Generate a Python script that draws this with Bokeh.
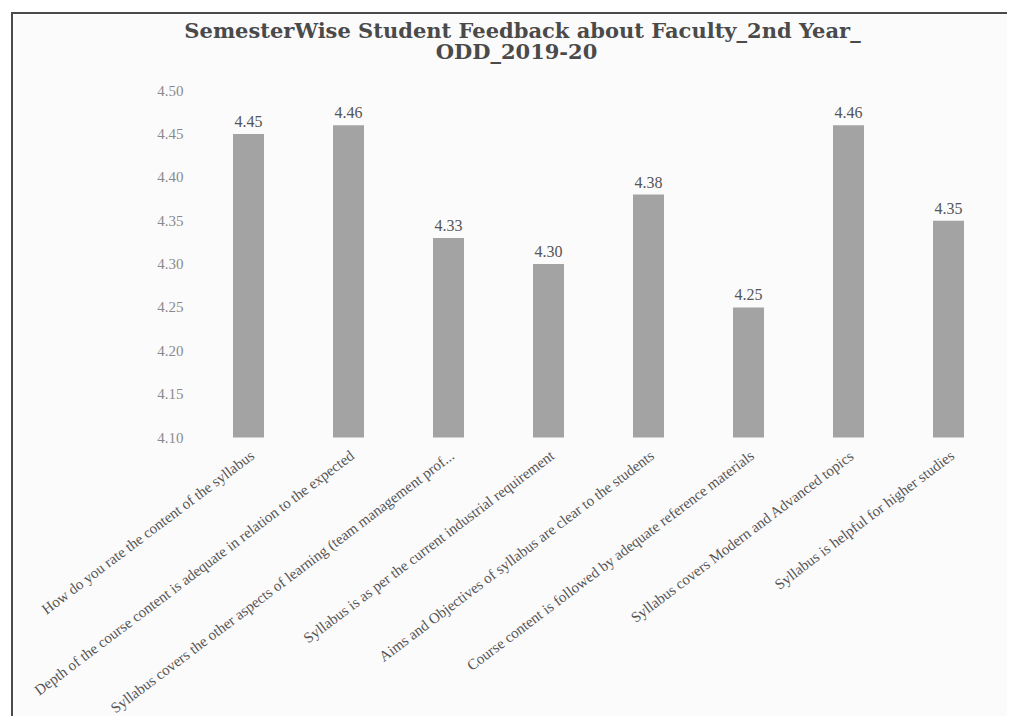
from bokeh.plotting import figure
from bokeh.models import ColumnDataSource, Range1d, LabelSet, Label
from bokeh.embed import file_html
from bokeh.resources import INLINE

# ---- data ----
categories = [
    "How do you rate the content of the syllabus",
    "Depth of the course content is adequate in relation to the expected",
    "Syllabus covers the other aspects of learning (team management prof...",
    "Syllabus is as per the current industrial requirement",
    "Aims and Objectives of syllabus are clear to the students",
    "Course content is followed by adequate reference materials",
    "Syllabus covers Modern and Advanced topics",
    "Syllabus is helpful for higher studies",
]
values = [4.45, 4.46, 4.33, 4.30, 4.38, 4.25, 4.46, 4.35]
value_labels = ["4.45", "4.46", "4.33", "4.30", "4.38", "4.25", "4.46", "4.35"]
y_ticks = [4.10, 4.15, 4.20, 4.25, 4.30, 4.35, 4.40, 4.45, 4.50]
y_tick_labels = ["4.10", "4.15", "4.20", "4.25", "4.30", "4.35", "4.40", "4.45", "4.50"]
title_lines = ["SemesterWise Student Feedback about Faculty_2nd Year_", "ODD_2019-20"]

# ---- layout (page pixels) ----
FONT = "DejaVu Serif"
BG = "#fcfbfc"
W, H = 996, 704                 # canvas size
OX, OY = 13, 14                 # canvas origin on the page (margin + border)
BAND_LEFT, BAND_W = 198, 100    # left edge of the category bands, band width
Y_BOTTOM_PX, Y_TOP_PX = 437, 90 # pixel rows of the first and last y tick

n = len(categories)
ppu_y = (Y_BOTTOM_PX - Y_TOP_PX) / (y_ticks[-1] - y_ticks[0])
x_start = (OX - BAND_LEFT) / BAND_W
x_end = (OX + W - BAND_LEFT) / BAND_W
y_end = y_ticks[0] + (Y_BOTTOM_PX - OY) / ppu_y
y_start = y_ticks[0] - (OY + H - Y_BOTTOM_PX) / ppu_y

xs = [i + 0.5 for i in range(n)]
src = ColumnDataSource(dict(x=xs, cat=categories, val=values, lab=value_labels))
ysrc = ColumnDataSource(dict(y=y_ticks, lab=y_tick_labels))

p = figure(
    width=W, height=H,
    x_range=Range1d(x_start, x_end), y_range=Range1d(y_start, y_end),
    x_axis_location=None, y_axis_location=None,
    output_backend="svg", toolbar_location=None,
    min_border=0, min_border_left=0, min_border_right=0,
    min_border_top=0, min_border_bottom=0,
    background_fill_color=BG, border_fill_color=BG,
)
p.styles = {"border-left": "2px solid #4a4a4a", "border-top": "2px solid #4a4a4a",
            "margin-left": "11px", "margin-top": "12px"}
p.outline_line_color = None
p.grid.grid_line_color = None

p.vbar(x="x", top="val", bottom=y_ticks[0], width=0.31, source=src,
       fill_color="#a3a3a3", line_color=None)

# value labels
p.add_layout(LabelSet(x="x", y="val", text="lab", source=src,
                      text_align="center", text_baseline="bottom", y_offset=7,
                      text_font=FONT, text_font_size="16px", text_color="#555555"))

# category labels
p.add_layout(LabelSet(x="x", y=y_ticks[0], text="cat", source=src,
                      angle=0.646, text_align="right", text_baseline="middle",
                      x_offset=4, y_offset=-16,
                      text_font=FONT, text_font_size="15px", text_color="#555555"))

# y tick labels
p.add_layout(LabelSet(x=0, y="y", text="lab", source=ysrc,
                      text_align="right", text_baseline="middle", x_offset=-15,
                      text_font=FONT, text_font_size="15px", text_color="#8a8a8a"))

# title
p.add_layout(Label(x=n / 2, y=y_ticks[-1], x_offset=-76, y_offset=60, text=title_lines[0],
                   text_align="center", text_baseline="middle",
                   text_font=FONT, text_font_size="21px", text_font_style="bold",
                   text_color="#4a4a4a"))
p.add_layout(Label(x=n / 2, y=y_ticks[-1], x_offset=-82, y_offset=39, text=title_lines[1],
                   text_align="center", text_baseline="middle",
                   text_font=FONT, text_font_size="21px", text_font_style="bold",
                   text_color="#4a4a4a"))

open("out.html", "w").write(file_html(p, INLINE))
